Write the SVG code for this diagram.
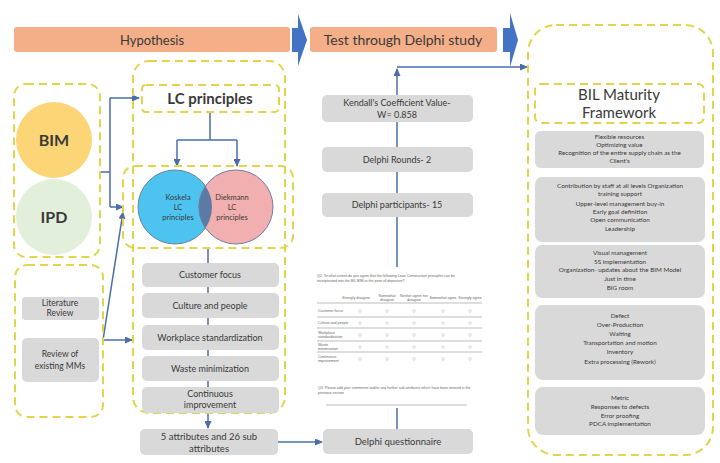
<svg xmlns="http://www.w3.org/2000/svg" width="720" height="463" viewBox="0 0 720 463">
<style>
.dash{fill:none;stroke:#E2D44C;stroke-width:2;stroke-dasharray:8 5}
.box{fill:#D9D9D9}
.t{font-family:Lato,"Liberation Sans",sans-serif;fill:#3A3A3A;text-anchor:middle}
.conn{stroke:#4A6EA9;stroke-width:1.5;fill:none}
.q{font-family:"Liberation Sans",sans-serif;fill:#666;font-size:3.6px}
.ql{stroke:#A0A0A0;stroke-width:0.7}
.rad{fill:none;stroke:#BBB;stroke-width:0.5}
</style>
<defs>
<marker id="ah" markerUnits="userSpaceOnUse" markerWidth="8" markerHeight="7" refX="7" refY="3.5" orient="auto">
<path d="M0,0 L8,3.5 L0,7 z" fill="#4A6EA9"/>
</marker>
<clipPath id="kclip"><circle cx="175" cy="207" r="37"/></clipPath>
</defs>
<rect width="720" height="463" fill="#FFFFFF"/>

<g id="connectors">
<path class="conn" d="M100,172 H110 M110,98 V207"/>
<path class="conn" d="M110,98 H139" marker-end="url(#ah)"/>
<path class="conn" d="M110,207 H123" marker-end="url(#ah)"/>
<path class="conn" d="M103,340 L123,212" stroke-width="1.2" marker-end="url(#ah)"/>
<path class="conn" d="M103,340 H132" marker-end="url(#ah)"/>
<path class="conn" d="M210,112 V140 M177,140 H237"/>
<path class="conn" d="M177,140 V166" marker-end="url(#ah)"/>
<path class="conn" d="M237,140 V166" marker-end="url(#ah)"/>
<path class="conn" d="M208,248 V263 M208,287 V293 M208,318 V325 M208,350 V356 M208,381 V387" stroke-width="2"/>
<path class="conn" d="M208,413 V428" marker-end="url(#ah)"/>
<path class="conn" d="M278,442 H322" stroke-width="2" marker-end="url(#ah)"/>
<path class="conn" d="M397,429 V408" stroke-width="2"/>
<path class="conn" d="M397,267 V69" stroke-width="2" marker-end="url(#ah)"/>
<path class="conn" d="M397,67 H527" stroke-width="2" marker-end="url(#ah)"/>
</g>

<g id="hypothesis">
<rect x="14" y="27" width="276" height="25" rx="3" fill="#F4AE88"/>
<text class="t" x="152" y="44.5" font-size="13">Hypothesis</text>
</g>
<g id="arrow-1">
<polygon points="292,28 298,28 298,14 307,40 298,66 298,52 292,52" fill="#4472C4"/>
</g>
<g id="test-delphi">
<rect x="310" y="27" width="187" height="25" rx="3" fill="#F4AE88"/>
<text class="t" x="403" y="44.5" font-size="14">Test through Delphi study</text>
</g>
<g id="arrow-2">
<polygon points="503,28 510,28 510,13 518,40 510,67 510,52 503,52" fill="#4472C4"/>
</g>

<g id="bim-ipd-group">
<rect class="dash" x="14" y="84" width="86" height="173" rx="12"/>
</g>
<g id="bim">
<circle cx="54" cy="140" r="38" fill="#FBD576"/>
<text class="t" x="54" y="146" font-size="16" font-weight="bold" fill="#404040">BIM</text>
</g>
<g id="ipd">
<circle cx="54" cy="217" r="38" fill="#E2EFDA"/>
<text class="t" x="54" y="223" font-size="16" font-weight="bold" fill="#404040">IPD</text>
</g>

<g id="sources-group">
<rect class="dash" x="15" y="265" width="88" height="152" rx="12"/>
</g>
<g id="literature-review">
<rect class="box" x="22" y="297" width="77" height="23" rx="4"/>
<text class="t" x="60" y="306" font-size="8.5">Literature</text>
<text class="t" x="60" y="316" font-size="8.5">Review</text>
</g>
<g id="review-mms">
<rect class="box" x="22" y="338" width="77" height="44" rx="5"/>
<text class="t" x="60" y="357" font-size="8.5">Review of</text>
<text class="t" x="60" y="369" font-size="8.5">existing MMs</text>
</g>

<g id="lc-group">
<rect class="dash" x="133" y="61" width="152" height="352" rx="16"/>
</g>
<g id="lc-principles">
<rect class="dash" x="142" y="85" width="137" height="27" rx="4" stroke-width="1.6"/>
<text class="t" x="210" y="104" font-size="15" font-weight="bold" fill="#404040">LC principles</text>
</g>
<g id="venn-group">
<rect class="dash" x="123" y="166" width="170" height="82" rx="12"/>
</g>
<g id="koskela">
<circle cx="175" cy="207" r="37" fill="#4DC3F0" stroke="#6F7FA0" stroke-width="1"/>
</g>
<g id="diekmann">
<circle cx="236" cy="207" r="37" fill="#F2AFAF" stroke="#6F7FA0" stroke-width="1"/>
<circle cx="236" cy="207" r="37" fill="#5B7BA6" stroke="#6F7FA0" stroke-width="1" clip-path="url(#kclip)"/>
<text class="t" x="178" y="200" font-size="7.5" fill="#1F3A5F">Koskela</text>
<text class="t" x="178" y="210" font-size="7.5" fill="#1F3A5F">LC</text>
<text class="t" x="178" y="220" font-size="7.5" fill="#1F3A5F">principles</text>
<text class="t" x="232" y="200" font-size="7.5" fill="#5A3535">Diekmann</text>
<text class="t" x="232" y="210" font-size="7.5" fill="#5A3535">LC</text>
<text class="t" x="232" y="220" font-size="7.5" fill="#5A3535">principles</text>
</g>
<g id="customer-focus">
<rect class="box" x="142" y="263" width="137" height="24" rx="5"/>
<text class="t" x="210" y="278" font-size="9">Customer focus</text>
</g>
<g id="culture-people">
<rect class="box" x="142" y="293" width="137" height="25" rx="5"/>
<text class="t" x="210" y="309" font-size="9">Culture and people</text>
</g>
<g id="workplace">
<rect class="box" x="142" y="325" width="137" height="25" rx="5"/>
<text class="t" x="210" y="341" font-size="9">Workplace standardization</text>
</g>
<g id="waste">
<rect class="box" x="142" y="356" width="137" height="25" rx="5"/>
<text class="t" x="210" y="372" font-size="9">Waste minimization</text>
</g>
<g id="continuous">
<rect class="box" x="142" y="387" width="137" height="26" rx="5"/>
<text class="t" x="210" y="397" font-size="9">Continuous</text>
<text class="t" x="210" y="408" font-size="9">improvement</text>
</g>
<g id="attributes">
<rect class="box" x="140" y="429" width="138" height="26" rx="5"/>
<text class="t" x="209" y="440" font-size="9.5">5 attributes and 26 sub</text>
<text class="t" x="209" y="452" font-size="9.5">attributes</text>
</g>

<g id="kendall">
<rect class="box" x="322" y="95" width="151" height="27" rx="5"/>
<text class="t" x="397" y="106" font-size="9">Kendall's Coefficient Value-</text>
<text class="t" x="397" y="118" font-size="9">W= 0.858</text>
</g>
<g id="rounds">
<rect class="box" x="322" y="147" width="151" height="25" rx="5"/>
<text class="t" x="397" y="163" font-size="9">Delphi Rounds- 2</text>
</g>
<g id="participants">
<rect class="box" x="322" y="193" width="151" height="24" rx="5"/>
<text class="t" x="397" y="208" font-size="9">Delphi participants- 15</text>
</g>

<g id="questionnaire-form">
<text class="q" x="317" y="277">Q2. To what extent do you agree that the following Lean Construction principles can be</text>
<text class="q" x="317" y="282">incorporated into the BIL BIM at the point of departure?</text>
<text class="q" x="356" y="299" text-anchor="middle">Strongly disagree</text>
<text class="q" x="387" y="297" text-anchor="middle">Somewhat</text>
<text class="q" x="387" y="301" text-anchor="middle">disagree</text>
<text class="q" x="414" y="297" text-anchor="middle">Neither agree nor</text>
<text class="q" x="414" y="301" text-anchor="middle">disagree</text>
<text class="q" x="443" y="299" text-anchor="middle">Somewhat agree</text>
<text class="q" x="470" y="299" text-anchor="middle">Strongly agree</text>
<line class="ql" x1="317" y1="303" x2="482" y2="303" stroke-width="1"/>
<text class="q" x="318" y="312">Customer focus</text>
<text class="q" x="318" y="324">Culture and people</text>
<text class="q" x="318" y="334">Workplace</text>
<text class="q" x="318" y="338">standardization</text>
<text class="q" x="318" y="346">Waste</text>
<text class="q" x="318" y="350">minimization</text>
<text class="q" x="318" y="358">Continuous</text>
<text class="q" x="318" y="362">improvement</text>
<line class="ql" x1="317" y1="317" x2="482" y2="317"/>
<line class="ql" x1="317" y1="328" x2="482" y2="328"/>
<line class="ql" x1="317" y1="341" x2="482" y2="341"/>
<line class="ql" x1="317" y1="352" x2="482" y2="352"/>
<g class="rad">
<circle cx="360" cy="311" r="1.3"/><circle cx="387" cy="311" r="1.3"/><circle cx="414" cy="311" r="1.3"/><circle cx="443" cy="311" r="1.3"/><circle cx="470" cy="311" r="1.3"/>
<circle cx="360" cy="323" r="1.3"/><circle cx="387" cy="323" r="1.3"/><circle cx="414" cy="323" r="1.3"/><circle cx="443" cy="323" r="1.3"/><circle cx="470" cy="323" r="1.3"/>
<circle cx="360" cy="335" r="1.3"/><circle cx="387" cy="335" r="1.3"/><circle cx="414" cy="335" r="1.3"/><circle cx="443" cy="335" r="1.3"/><circle cx="470" cy="335" r="1.3"/>
<circle cx="360" cy="347" r="1.3"/><circle cx="387" cy="347" r="1.3"/><circle cx="414" cy="347" r="1.3"/><circle cx="443" cy="347" r="1.3"/><circle cx="470" cy="347" r="1.3"/>
<circle cx="360" cy="359" r="1.3"/><circle cx="387" cy="359" r="1.3"/><circle cx="414" cy="359" r="1.3"/><circle cx="443" cy="359" r="1.3"/><circle cx="470" cy="359" r="1.3"/>
</g>
<text class="q" x="318" y="389">Q3. Please add your comments and/or any further sub attributes which have been missed in the</text>
<text class="q" x="318" y="394">previous section</text>
<line class="ql" x1="326" y1="405" x2="467" y2="405" stroke-width="0.9"/>
</g>
<g id="delphi-questionnaire">
<rect class="box" x="323" y="429" width="150" height="25" rx="5"/>
<text class="t" x="398" y="445" font-size="9.5">Delphi questionnaire</text>
</g>

<g id="framework-group">
<rect class="dash" x="528" y="25" width="185" height="430" rx="28"/>
</g>
<g id="bil-title">
<rect class="dash" x="535" y="84" width="169" height="39" rx="6" stroke-width="1.6"/>
<text class="t" x="619" y="100" font-size="15" fill="#404040">BIL Maturity</text>
<text class="t" x="619" y="118" font-size="15" fill="#404040">Framework</text>
</g>
<g id="fw-1">
<rect class="box" x="535" y="131" width="169" height="37" rx="6"/>
<g class="t" font-size="6.3">
<text x="619.5" y="139">Flexible resources</text>
<text x="619.5" y="147">Optimizing value</text>
<text x="619.5" y="155">Recognition of the entire supply chain as the</text>
<text x="619.5" y="163">Client's</text>
</g>
</g>
<g id="fw-2">
<rect class="box" x="535" y="177" width="170" height="65" rx="7"/>
<g class="t" font-size="6.3">
<text x="620" y="188">Contribution by staff at all levels Organization</text>
<text x="620" y="196">training support</text>
<text x="620" y="206">Upper-level management buy-in</text>
<text x="620" y="214">Early goal definition</text>
<text x="620" y="222">Open communication</text>
<text x="620" y="231">Leadership</text>
</g>
</g>
<g id="fw-3">
<rect class="box" x="535" y="245" width="170" height="53" rx="7"/>
<g class="t" font-size="6.3">
<text x="620" y="255">Visual management</text>
<text x="620" y="264">5S implementation</text>
<text x="620" y="272">Organization- updates about the BIM Model</text>
<text x="620" y="281">Just in time</text>
<text x="620" y="290">BIG room</text>
</g>
</g>
<g id="fw-4">
<rect class="box" x="535" y="305" width="170" height="75" rx="8"/>
<g class="t" font-size="6.3">
<text x="620" y="318">Defect</text>
<text x="620" y="327">Over-Production</text>
<text x="620" y="336">Waiting</text>
<text x="620" y="345">Transportation and motion</text>
<text x="620" y="354">Inventory</text>
<text x="620" y="364">Extra processing (Rework)</text>
</g>
</g>
<g id="fw-5">
<rect class="box" x="535" y="387" width="170" height="48" rx="8"/>
<g class="t" font-size="6.3">
<text x="620" y="400">Metric</text>
<text x="620" y="409">Responses to defects</text>
<text x="620" y="418">Error proofing</text>
<text x="620" y="426">PDCA implementation</text>
</g>
</g>
</svg>
